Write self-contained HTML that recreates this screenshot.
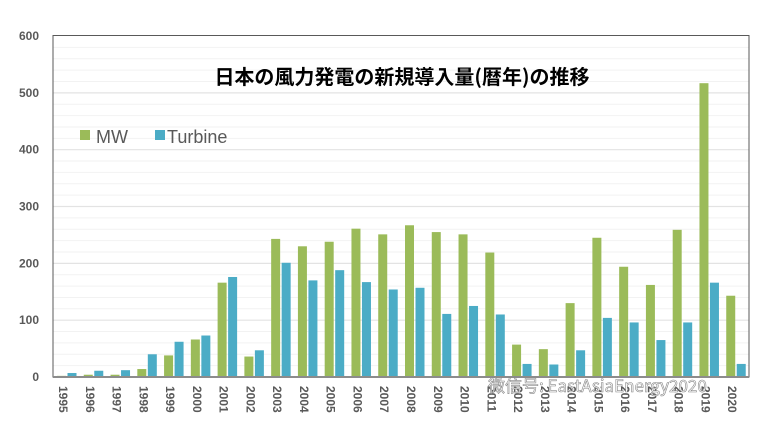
<!DOCTYPE html>
<html><head><meta charset="utf-8"><style>
body{margin:0;background:#fff;}
svg{display:block;}
</style></head><body>
<svg width="770" height="423" xmlns="http://www.w3.org/2000/svg" font-family="Liberation Sans, 'Noto Sans CJK JP', sans-serif">
<rect width="770" height="423" fill="#fff"/>
<g id="grid"></g>
<g id="bars"></g>
<rect x="53" y="35.5" width="696" height="341.5" fill="none" stroke="#595959" stroke-width="1"/>
<line x1="53" y1="377" x2="749" y2="377" stroke="#8c8c8c" stroke-width="2"/>
<g font-size="12" font-weight="bold" fill="#595959" text-anchor="end" id="yl"></g>
<g font-size="12" font-weight="bold" fill="#595959" id="xl"></g>
<text x="402" y="84" text-anchor="middle" font-size="20" font-weight="bold" fill="#000" font-family="'Noto Sans CJK JP', sans-serif">日本の風力発電の新規導入量(暦年)の推移</text>
<rect x="80" y="130" width="10" height="10" fill="#9bbb59"/>
<text x="96" y="143" font-size="18" fill="#595959">MW</text>
<rect x="155" y="130" width="10" height="10" fill="#4bacc6"/>
<text x="167" y="143" font-size="18" fill="#595959">Turbine</text>
<text x="488" y="392" font-size="17" fill="#fff" stroke="#888" stroke-width="0.6" font-family="'Noto Sans CJK SC', sans-serif">微信号: EastAsiaEnergy2020</text>
</svg>
<script>
const mw=[2,4,4,14,38,66,166,36,243,230,238,261,251,267,255,251,219,57,49,130,245,194,162,259,517,143];
const tb=[7,11,12,40,62,73,176,47,201,170,188,167,154,157,111,125,110,23,22,47,104,96,65,96,166,23];
const ns="http://www.w3.org/2000/svg";
const y=v=>377-v*0.5683;
const g=document.getElementById('grid');
for(let v=20;v<600;v+=20){const l=document.createElementNS(ns,'line');l.setAttribute('x1',53);l.setAttribute('x2',749);l.setAttribute('y1',y(v));l.setAttribute('y2',y(v));l.setAttribute('stroke',v%100==0?'#e3e3e3':'#f2f2f2');l.setAttribute('stroke-width',v%100==0?1.2:1);g.appendChild(l);}
const yl=document.getElementById('yl');
for(let v=0;v<=600;v+=100){const t=document.createElementNS(ns,'text');t.setAttribute('x',39);t.setAttribute('y',y(v)+4);t.textContent=v;yl.appendChild(t);}
const b=document.getElementById('bars'),xl=document.getElementById('xl');
const s=696/26;
for(let i=0;i<26;i++){const x0=53+i*s;
 [[mw[i],'#9bbb59',x0+4],[tb[i],'#4bacc6',x0+14.5]].forEach(([v,c,x])=>{const r=document.createElementNS(ns,'rect');r.setAttribute('x',x);r.setAttribute('width',9);r.setAttribute('y',y(v));r.setAttribute('height',377-y(v));r.setAttribute('fill',c);b.appendChild(r);});
 const t=document.createElementNS(ns,'text');const cx=x0+10,cy=386;t.setAttribute('transform',`translate(${cx-4},${cy}) rotate(90)`);t.textContent=1995+i;xl.appendChild(t);}
</script>
</body></html>
